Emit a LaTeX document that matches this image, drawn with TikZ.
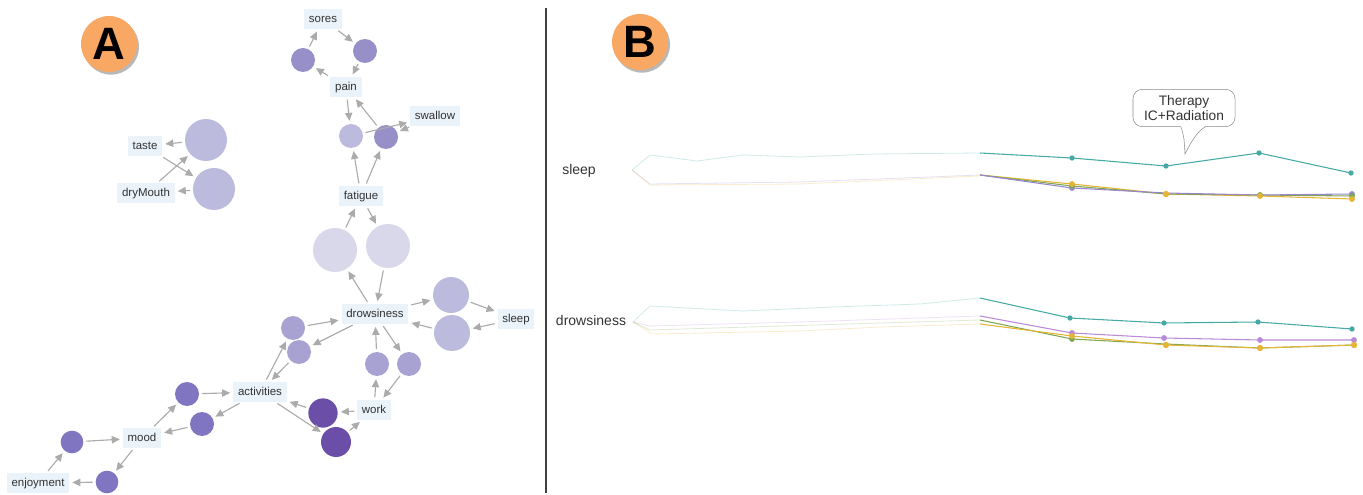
\documentclass[tikz,border=0pt]{standalone}
\usepackage{fontspec}
\setmainfont{Liberation Sans}
\usetikzlibrary{arrows.meta,shadows}

\definecolor{lblblue}{HTML}{EAF3FA}
\definecolor{txtgray}{HTML}{333333}
\definecolor{arrgray}{HTML}{ABABAB}
\definecolor{badgeorange}{HTML}{F8A862}
\definecolor{lvA}{HTML}{D9D8EB}
\definecolor{lvB}{HTML}{BDBBDD}
\definecolor{lvC}{HTML}{A7A2D1}
\definecolor{lvD}{HTML}{978FC8}
\definecolor{lvE}{HTML}{8075C0}
\definecolor{lvF}{HTML}{6B4EA7}
\definecolor{lnteal}{HTML}{45AAA4}
\definecolor{lnpurple}{HTML}{9A86CC}
\definecolor{lnorchid}{HTML}{B98AD8}
\definecolor{lngreen}{HTML}{7FA653}
\definecolor{lnyellow}{HTML}{E5B434}

\begin{document}
\begin{tikzpicture}[x=0.75pt, y=-0.75pt,
    lbl/.style={fill=lblblue, text=txtgray, font=\fontsize{8.6}{10}\selectfont,
        inner xsep=3.5pt, inner ysep=3.2pt, text height=6.4pt, text depth=1.8pt},
    bub/.style={circle, inner sep=0pt, minimum size=#1},
    arr/.style={draw=arrgray, line width=0.85pt, -{Triangle[length=6pt, width=5.5pt]},
        shorten >=2.2pt, shorten <=2pt},
    badge/.style={circle, fill=badgeorange, minimum size=42pt, inner sep=0pt,
        font=\fontsize{34}{34}\selectfont\bfseries,
        drop shadow={shadow xshift=1.5pt, shadow yshift=-2pt, fill=black!35, opacity=0.8}},
    rowlbl/.style={text=txtgray, font=\fontsize{10.5}{12}\selectfont, inner sep=1pt},
    fnt/.style={line width=0.6pt, opacity=0.25},
    ln/.style={line width=0.8pt},
    dot/.style={circle, inner sep=0pt, minimum size=4.5pt}]
    \useasboundingbox (0,0) rectangle (1363,495);

    % A: symptom network
    \node[badge] (bA) at (109,44) {A};
    \node[lbl] (taste) at (145,146) {taste};
    \node[lbl] (dry) at (146,193) {dryMouth};
    \node[bub=31.5pt, fill=lvB] (t1) at (206,140) {};
    \node[bub=31.5pt, fill=lvB] (t2) at (214,189) {};

    \node[lbl] (sores) at (323,19) {sores};
    \node[bub=18pt, fill=lvD] (s1) at (303,60) {};
    \node[bub=18pt, fill=lvD] (s2) at (365,51) {};
    \node[lbl] (pain) at (346,87) {pain};
    \node[lbl] (swallow) at (435,116) {swallow};
    \node[bub=18pt, fill=lvB] (p1) at (351,136) {};
    \node[bub=18pt, fill=lvD] (p2) at (386,137) {};
    \node[lbl] (fatigue) at (361,196) {fatigue};
    \node[bub=33pt, fill=lvA] (f1) at (335,250) {};
    \node[bub=33pt, fill=lvA] (f2) at (388,246) {};
    \node[lbl] (drows) at (375,314) {drowsiness};
    \node[bub=27pt, fill=lvB] (z1) at (451,295) {};
    \node[bub=27pt, fill=lvB] (z2) at (452,333) {};
    \node[lbl] (sleep) at (516,319) {sleep};
    \node[bub=18pt, fill=lvC] (d1) at (293,328) {};
    \node[bub=18pt, fill=lvC] (d2) at (299,352) {};
    \node[bub=18pt, fill=lvC] (w1) at (377,364) {};
    \node[bub=18pt, fill=lvC] (w2) at (409,364) {};
    \node[lbl] (work) at (374,410) {work};
    \node[lbl] (activ) at (260,392) {activities};
    \node[bub=22pt, fill=lvF] (k1) at (323,413) {};
    \node[bub=22.5pt, fill=lvF] (k2) at (336,442) {};
    \node[bub=18pt, fill=lvE] (a1) at (187,394) {};
    \node[bub=18pt, fill=lvE] (a2) at (202,424) {};
    \node[lbl] (mood) at (142,438) {mood};
    \node[bub=17pt, fill=lvE] (m1) at (72,442) {};
    \node[bub=17pt, fill=lvE] (m2) at (107,482) {};
    \node[lbl] (enjoy) at (38,483) {enjoyment};

    \draw[arr] (t1) -- (taste);
    \draw[arr] (taste) -- (t2);
    \draw[arr] (dry) -- (t1);
    \draw[arr] (t2) -- (dry);
    \draw[arr] (s1) -- (sores);
    \draw[arr] (sores) -- (s2);
    \draw[arr] (s2) -- (pain);
    \draw[arr] (pain) -- (s1);
    \draw[arr] (pain) -- (p1);
    \draw[arr] (p1) -- (swallow);
    \draw[arr] (swallow) -- (p2);
    \draw[arr] (p2) -- (pain);
    \draw[arr] (fatigue) -- (p1);
    \draw[arr] (fatigue) -- (p2);
    \draw[arr] (f1) -- (fatigue);
    \draw[arr] (fatigue) -- (f2);
    \draw[arr] (drows) -- (f1);
    \draw[arr] (f2) -- (drows);
    \draw[arr] (drows) -- (z1);
    \draw[arr] (z1) -- (sleep);
    \draw[arr] (sleep) -- (z2);
    \draw[arr] (z2) -- (drows);
    \draw[arr] (d1) -- (drows);
    \draw[arr] (drows) -- (d2);
    \draw[arr] (activ) -- (d1);
    \draw[arr] (d2) -- (activ);
    \draw[arr] (drows) -- (w2);
    \draw[arr] (w2) -- (work);
    \draw[arr] (work) -- (w1);
    \draw[arr] (w1) -- (drows);
    \draw[arr] (work) -- (k1);
    \draw[arr] (k1) -- (activ);
    \draw[arr] (activ) -- (k2);
    \draw[arr] (k2) -- (work);
    \draw[arr] (activ) -- (a2);
    \draw[arr] (a2) -- (mood);
    \draw[arr] (mood) -- (a1);
    \draw[arr] (a1) -- (activ);
    \draw[arr] (mood) -- (m2);
    \draw[arr] (m2) -- (enjoy);
    \draw[arr] (enjoy) -- (m1);
    \draw[arr] (m1) -- (mood);

    \draw[line width=0.9pt, black!75] (546,8) -- (546,493);

    % B: symptom trajectories
    \node[badge] (bB) at (640,42) {B};
    \node[rowlbl] (rsleep) at (579,171) {sleep};
    \node[rowlbl] (rdrows) at (591,320) {drowsiness};

    \draw[fnt, lnteal] (632,170) -- (650,155) -- (697,161) -- (743,155) -- (800,157) -- (873,154) -- (980,153);
    \draw[fnt, lnyellow] (632,170) -- (650,185) -- (800,184) -- (980,176);
    \draw[fnt, lnpurple] (632,170) -- (650,184) -- (800,182) -- (980,175);
    \draw[ln, lnteal] (980,153) -- (1072,158) -- (1166,166) -- (1259,153) -- (1351,173);
    \draw[ln, lnyellow] (980,175) -- (1072,184) -- (1166,194) -- (1260,196) -- (1352,199);
    \draw[ln, lngreen] (980,175) -- (1072,186) -- (1166,194) -- (1260,195) -- (1352,196);
    \draw[ln, lnpurple] (980,175) -- (1072,188) -- (1166,193) -- (1260,195) -- (1352,194);
    \fill[lnteal] (1072,158) circle (2pt) (1166,166) circle (2pt) (1259,153) circle (2pt) (1351,173) circle (2pt);
    \fill[lnpurple] (1072,188) circle (2.2pt) (1352,194) circle (2.2pt);
    \fill[lngreen] (1072,186) circle (2.2pt) (1260,195) circle (2.2pt) (1352,196) circle (2.2pt);
    \fill[lnyellow] (1072,184) circle (2.2pt) (1166,194) circle (2.4pt) (1260,196) circle (2.2pt) (1352,199) circle (2.2pt);

    % callout
    \node[draw=black!45, fill=white, rounded corners=7pt, minimum width=76.5pt, minimum height=28pt,
        align=center, text=txtgray, font=\fontsize{10.3}{11.5}\selectfont, inner sep=1pt] (ther) at (1184,108) {Therapy\\IC+Radiation};
    \fill[white] (1181,125.5) -- (1185,154) -- (1205,125.5) -- cycle;
    \draw[black!45, line width=0.4pt] (1181,127) .. controls (1184,137) .. (1185,154)
        .. controls (1192,140) and (1198,131) .. (1205,127);

    \draw[fnt, lnteal] (633,322) -- (650,306) -- (743,311) -- (833,307) -- (920,304) -- (980,298);
    \draw[fnt, lnorchid] (633,322) -- (650,326) -- (800,322) -- (980,316);
    \draw[fnt, lngreen] (633,322) -- (650,330) -- (980,320);
    \draw[fnt, lnyellow] (633,322) -- (652,334) -- (800,331) -- (880,327) -- (980,324);
    \draw[ln, lnteal] (980,298) -- (1070,318) -- (1164,323) -- (1258,322) -- (1352,329);
    \draw[ln, lnorchid] (980,316) -- (1072,333) -- (1164,338) -- (1260,340) -- (1354,340);
    \draw[ln, lngreen] (980,320) -- (1072,339) -- (1165,344) -- (1260,348) -- (1354,345);
    \draw[ln, lnyellow] (980,324) -- (1072,336) -- (1166,345) -- (1260,348) -- (1354,345);
    \fill[lnteal] (1070,318) circle (2pt) (1164,323) circle (2pt) (1258,322) circle (2pt) (1352,329) circle (2pt);
    \fill[lnorchid] (1072,333) circle (2.2pt) (1164,338) circle (2.2pt) (1260,340) circle (2.2pt) (1354,340) circle (2.2pt);
    \fill[lngreen] (1072,339) circle (2.2pt);
    \fill[lnyellow] (1072,336) circle (2.2pt) (1166,345) circle (2.4pt) (1260,348) circle (2.4pt) (1354,345) circle (2.4pt);
\end{tikzpicture}
\end{document}
